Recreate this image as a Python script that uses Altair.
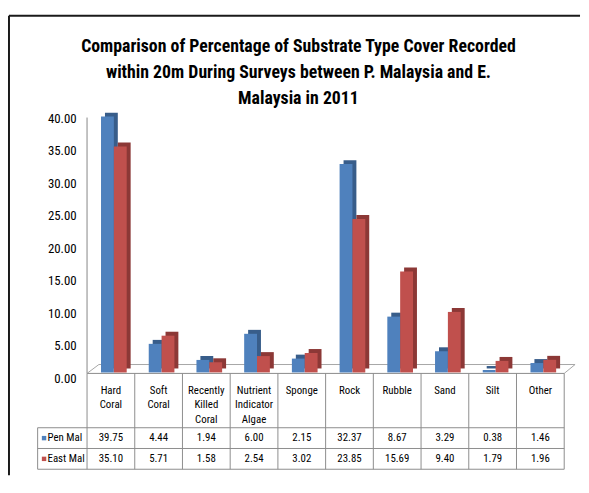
import altair as alt
import pandas as pd

categories = ["Hard Coral", "Soft Coral", "Recently Killed Coral", "Nutrient Indicator Algae",
              "Sponge", "Rock", "Rubble", "Sand", "Silt", "Other"]
header_labels = ["Hard\nCoral", "Soft\nCoral", "Recently\nKilled\nCoral", "Nutrient\nIndicator\nAlgae",
                 "Sponge", "Rock", "Rubble", "Sand", "Silt", "Other"]
series = ["Pen Mal", "East Mal"]
pen_mal = [39.75, 4.44, 1.94, 6.00, 2.15, 32.37, 8.67, 3.29, 0.38, 1.46]
east_mal = [35.10, 5.71, 1.58, 2.54, 3.02, 23.85, 15.69, 9.40, 1.79, 1.96]
y_ticks = [0, 5, 10, 15, 20, 25, 30, 35, 40]
title_lines = ["Comparison of Percentage of Substrate Type Cover Recorded",
               "within 20m During Surveys between P. Malaysia and E.",
               "Malaysia in 2011"]

FONT = "Liberation Sans Narrow, Arial Narrow, Roboto Condensed, Liberation Sans, sans-serif"
BLUE, BLUE_D = "#4F81BD", "#385D8A"
RED, RED_D = "#C0504D", "#8C3836"
GRID = "#8c8c8c"

W = 483
long_df = pd.DataFrame(
    [{"cat": c, "series": "Pen Mal", "value": v} for c, v in zip(categories, pen_mal)]
    + [{"cat": c, "series": "East Mal", "value": v} for c, v in zip(categories, east_mal)]
)
cat_df = pd.DataFrame({"cat": categories, "header": header_labels})
ser_df = pd.DataFrame({"series": series})
one = alt.Data(values=[{}])

xcat = alt.X("cat:N", sort=categories, scale=alt.Scale(domain=categories, paddingInner=0, paddingOuter=0), axis=None)
ybar_scale = alt.Scale(domain=[0, 40], range=[259, -1.6])


def rule(x0, x1, y0, y1, color=GRID, sw=1):
    return alt.Chart(one).mark_rule(color=color, strokeWidth=sw).encode(
        x=alt.value(x0), x2=alt.value(x1), y=alt.value(y0), y2=alt.value(y1))


layers = []
# outer frame (left and top edges)
layers.append(rule(-79, -79, -102, 363, "#1a1a1a", 2))
layers.append(rule(-79, 499, -102, -102, "#1a1a1a", 2))

# title
layers.append(alt.Chart(one).mark_text(
    font=FONT, fontSize=18, fontWeight="bold", color="#000", lineBreak="\n", lineHeight=26,
    align="center", baseline="middle").encode(
    x=alt.value(214), y=alt.value(-70), text=alt.value("\n".join(title_lines))))

# axis carrier
layers.append(alt.Chart(long_df).mark_point(opacity=0).encode(
    y=alt.Y("value:Q", scale=alt.Scale(domain=[0, 40], range=[265, 1.7]),
            axis=alt.Axis(orient="left", values=y_ticks, format=".2f", domain=False, ticks=False,
                          grid=False, labelPadding=11, labelFontSize=13, labelFont=FONT,
                          labelColor="#000", title=None)),
    x=alt.value(0)))

# axis line and floor
layers.append(rule(0, 0, 1, 260, "#868686", 1))
layers.append(rule(0, W, 260, 260, "#8a8a8a", 1))
layers.append(rule(12, W + 11, 251, 251, "#a6a6a6", 1))
layers.append(rule(0, 12, 260, 251, "#a6a6a6", 1))
layers.append(rule(W, W + 11, 260, 251, "#a6a6a6", 1))

# bars (back faces first, then fronts)
for name, color, dx, dy in [("Pen Mal", BLUE_D, 0.5, -4), ("East Mal", RED_D, 13.5, -4),
                            ("Pen Mal", BLUE, -3.5, 0), ("East Mal", RED, 9.5, 0)]:
    layers.append(alt.Chart(long_df).transform_filter(alt.datum.series == name).mark_bar(
        width=13, color=color, xOffset=dx, yOffset=dy, y2Offset=dy).encode(
        x=xcat,
        y=alt.Y("value:Q", scale=ybar_scale, axis=None)))

# table lines
layers.append(alt.Chart(cat_df).mark_rule(color=GRID).encode(
    x=alt.X("cat:N", sort=categories, bandPosition=0, axis=None), y=alt.value(260), y2=alt.value(357)))
layers.append(rule(W, W, 260, 357))
layers.append(rule(-50, -50, 315, 357))
for yy in [315, 336, 357]:
    layers.append(rule(-50, W, yy, yy))

# header text
layers.append(alt.Chart(cat_df).mark_text(
    font=FONT, fontSize=11, color="#000", lineBreak="\n", lineHeight=15, baseline="top").encode(
    x=xcat, y=alt.value(271.5), text="header:N"))

row_y = alt.Y("series:N", sort=series, scale=alt.Scale(domain=series, range=[315, 357], paddingInner=0, paddingOuter=0), axis=None)
# values
layers.append(alt.Chart(long_df).mark_text(font=FONT, fontSize=11, color="#000").encode(
    x=xcat, y=row_y, text=alt.Text("value:Q", format=".2f")))
# row labels
layers.append(alt.Chart(ser_df).mark_text(font=FONT, fontSize=11, color="#000", align="left").encode(
    x=alt.value(-40), y=row_y, text="series:N"))
layers.append(alt.Chart(ser_df).mark_square(size=20, opacity=1).encode(
    x=alt.value(-43.5), y=row_y,
    color=alt.Color("series:N", scale=alt.Scale(domain=series, range=[BLUE, RED]), legend=None)))

chart = alt.layer(*layers).resolve_scale(y="independent").properties(
    width=W, height=357, padding={"left": 0, "top": 4, "right": 0, "bottom": 0}
).configure_view(stroke=None)

chart.save("out.html", embed_options={"renderer": "svg", "actions": False})
